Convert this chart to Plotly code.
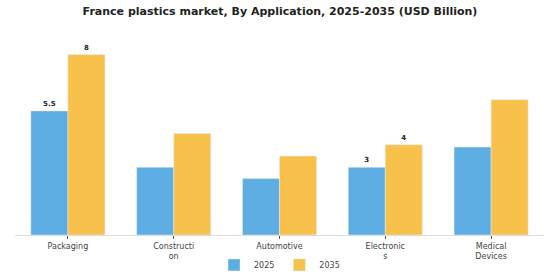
import plotly.graph_objects as go

categories = ["Packaging", "Constructi<br>on", "Automotive", "Electronic<br>s", "Medical<br>Devices"]
values_2025 = [5.5, 3.0, 2.5, 3.0, 3.9]
values_2035 = [8.0, 4.5, 3.5, 4.0, 6.0]
labels_2025 = ["<b>5.5</b>", "", "", "<b>3</b>", ""]
labels_2035 = ["<b>8</b>", "", "", "<b>4</b>", ""]

FONT = "DejaVu Sans"

fig = go.Figure()
fig.add_trace(go.Bar(
    name="2025", x=categories, y=values_2025, marker_color="#5DADE2",
    text=labels_2025, textposition="outside", cliponaxis=False,
    textfont=dict(family=FONT, size=7, color="#222222"),
))
fig.add_trace(go.Bar(
    name="2035", x=categories, y=values_2035, marker_color="#F8C14B",
    text=labels_2035, textposition="outside", cliponaxis=False,
    textfont=dict(family=FONT, size=7, color="#222222"),
))

fig.update_layout(
    width=560, height=280,
    margin=dict(l=15, r=16, t=30, b=45, autoexpand=False),
    paper_bgcolor="white", plot_bgcolor="white",
    barmode="group", bargap=0.3, bargroupgap=0,
    title=dict(text="<b>France plastics market, By Application, 2025-2035 (USD Billion)</b>",
               x=0.5, xanchor="center", y=0.96, yanchor="middle",
               font=dict(family=FONT, size=11, color="#222222")),
    font=dict(family=FONT, size=8, color="#444444"),
    showlegend=True,
    legend=dict(orientation="h", x=0.5, xanchor="center", yref="container", y=0.054, yanchor="middle",
                font=dict(family=FONT, size=8, color="#444444"), itemwidth=30),
    xaxis=dict(showline=True, linecolor="#dddddd", linewidth=1, ticks="outside", automargin=False,
               ticklen=3, tickcolor="#555555", tickfont=dict(family=FONT, size=8, color="#444444"),
               showgrid=False),
    yaxis=dict(visible=False, range=[0, 9.09], showgrid=False),
)

fig.write_html("out.html")
